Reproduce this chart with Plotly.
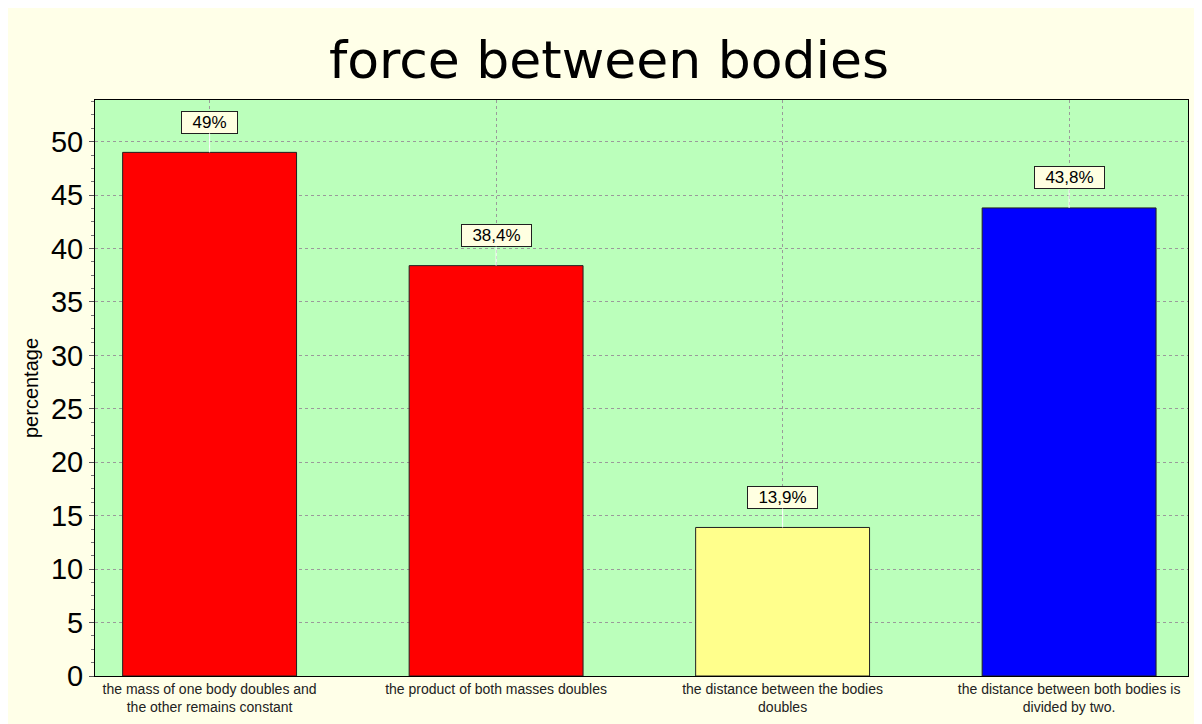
import plotly.graph_objects as go

# data
categories = [
    "the mass of one body doubles and<br>the other remains constant",
    "the product of both masses doubles",
    "the distance between the bodies<br>doubles",
    "the distance between both bodies is<br>divided by two.",
]
percentages = [49.0, 38.4, 13.9, 43.8]
value_labels = ["49%", "38,4%", "13,9%", "43,8%"]
bar_colors = ["#FF0000", "#FF0000", "#FFFF8C", "#0000FF"]

x_pos = list(range(len(categories)))

fig = go.Figure(
    data=[go.Bar(
        x=x_pos,
        y=percentages,
        width=0.607,
        marker=dict(color=bar_colors, line=dict(color="#202020", width=1)),
        hoverinfo="y",
    )],
)

# boxed value labels with a thin white connector down to the bar top
for xi, yi, lab in zip(x_pos, percentages, value_labels):
    fig.add_annotation(
        x=xi, y=yi, text=lab,
        showarrow=True, arrowhead=0, arrowwidth=1, arrowcolor="white",
        ax=0, ay=-30,
        width=len(lab) * 7 + 30, height=17,
        font=dict(family="Liberation Sans, Arial", size=17, color="black"),
        bgcolor="#FFFFE1", bordercolor="#202020", borderwidth=1, borderpad=2,
    )

fig.update_layout(
    width=1202, height=724,
    margin=dict(l=87, r=22, t=92, b=56),
    paper_bgcolor="#FFFFE8",
    plot_bgcolor="#BBFFBB",
    showlegend=False,
    title=dict(text="force between bodies", x=0.5, xanchor="center",
               y=0.928, yanchor="middle",
               font=dict(family="DejaVu Sans", size=52, color="black")),
    xaxis=dict(
        range=[-0.4, 3.415],
        tickmode="array", tickvals=x_pos, ticktext=categories,
        tickfont=dict(family="Liberation Sans, Arial", size=14, color="#222222"),
        ticks="", showgrid=True, gridcolor="#9A9A9A", griddash="3px,3px", gridwidth=1,
        showline=True, linecolor="black", linewidth=1, mirror=True,
        fixedrange=True,
    ),
    yaxis=dict(
        range=[0, 53.9], dtick=5, tick0=0,
        tickfont=dict(family="Liberation Sans, Arial", size=29, color="black"),
        ticks="outside", ticklen=5, tickcolor="#555555",
        minor=dict(dtick=1.25, ticks="outside", ticklen=3, tickcolor="#777777", showgrid=False),
        showgrid=True, gridcolor="#9A9A9A", griddash="3px,3px", gridwidth=1,
        showline=True, linecolor="black", linewidth=1, mirror=True,
        zeroline=False,
        title=dict(text="percentage", standoff=6,
                   font=dict(family="Liberation Sans, Arial", size=20, color="black")),
    ),
)

fig.write_html("out.html")
